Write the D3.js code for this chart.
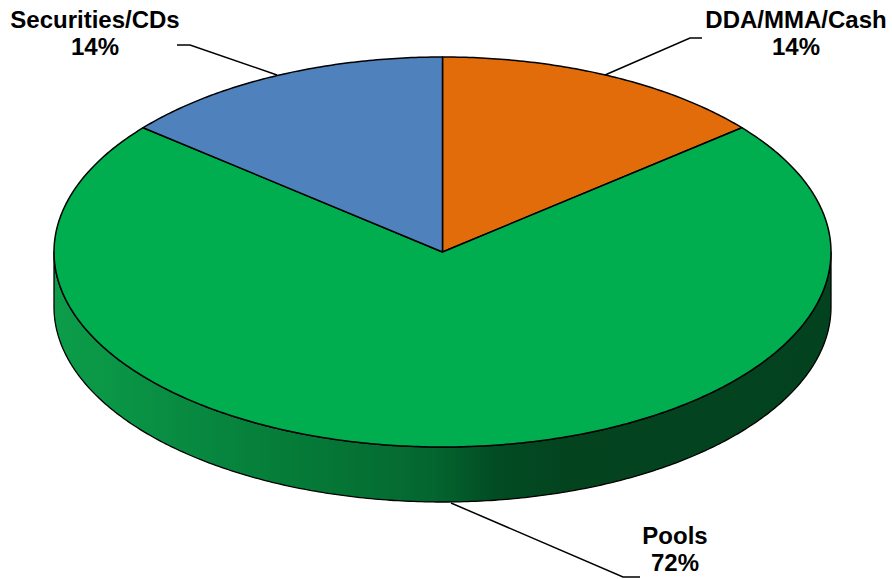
<!DOCTYPE html>
<html>
<head>
<meta charset="utf-8">
<script src="https://cdn.jsdelivr.net/npm/d3@7"></script>
<style>
  html, body { margin: 0; padding: 0; background: #ffffff; }
  svg { display: block; }
  text { font-family: "Liberation Sans", Arial, sans-serif; font-weight: bold; fill: #000; }
</style>
</head>
<body>
<svg id="chart" width="892" height="579"></svg>
<script>
// Portfolio allocation, clockwise from 12 o'clock
const categories = ["DDA/MMA/Cash", "Pools", "Securities/CDs"];
const shares = [14, 72, 14];
const sliceColors = ["#e36c0a", "#00ae4f", "#4f81bd"];

// Label placement (text anchor point, leader line from label to slice edge)
const labelPos = [
  { x: 796, y: 28, line: [[702, 38], [690, 38], [605, 75]] },
  { x: 675, y: 544, line: [[640, 577], [623, 577], [451, 503]] },
  { x: 95, y: 28, line: [[177, 45], [190, 45], [277, 75]] }
];

const svg = d3.select("#chart");
const cx = 442.5, cy = 252, rx = 388.5, ry = 195, depth = 55;

const pie = d3.pie().sort(null).value(d => d)
  .startAngle(0).endAngle(2 * Math.PI);
const arcs = pie(shares);

// Map a pie angle (0 = top, clockwise) onto the tilted ellipse
const px = a => cx + rx * Math.sin(a);
const py = (a, dy = 0) => cy - ry * Math.cos(a) + dy;

function arcPoints(a0, a1, dy = 0) {
  const n = Math.max(2, Math.ceil(Math.abs(a1 - a0) / 0.01));
  return d3.range(n + 1).map(i => {
    const a = a0 + (a1 - a0) * i / n;
    return [px(a), py(a, dy)];
  });
}

// Side-wall gradient: lit on the left, falling into shadow on the right
const defs = svg.append("defs");
const grad = defs.append("linearGradient")
  .attr("id", "sideGrad")
  .attr("gradientUnits", "userSpaceOnUse")
  .attr("x1", cx - rx).attr("y1", 0)
  .attr("x2", cx + rx).attr("y2", 0);
[
  [0.00, "#0c9c4a"],
  [0.07, "#0a9746"],
  [0.17, "#088a41"],
  [0.32, "#057a37"],
  [0.42, "#056f33"],
  [0.49, "#03652f"],
  [0.57, "#024b23"],
  [0.66, "#03441f"],
  [1.00, "#03421f"]
].forEach(([o, c]) => grad.append("stop").attr("offset", o).attr("stop-color", c));

const line = d3.line();

// Visible side wall: the front half of each slice (angles between 90° and 270°)
arcs.forEach((d, i) => {
  const a0 = Math.max(d.startAngle, Math.PI / 2);
  const a1 = Math.min(d.endAngle, 3 * Math.PI / 2);
  if (a1 <= a0) return;
  const top = arcPoints(a0, a1);
  const bottom = arcPoints(a1, a0, depth);
  svg.append("path")
    .attr("d", line(top.concat(bottom)) + "Z")
    .attr("fill", i === 1 ? "url(#sideGrad)" : d3.color(sliceColors[i]).darker(0.8))
    .attr("stroke", "#000")
    .attr("stroke-width", 1.3)
    .attr("stroke-linejoin", "round");
});

// Top faces
arcs.forEach((d, i) => {
  const pts = [[cx, cy]].concat(arcPoints(d.startAngle, d.endAngle));
  svg.append("path")
    .attr("d", line(pts) + "Z")
    .attr("fill", sliceColors[i])
    .attr("stroke", "#000")
    .attr("stroke-width", 1.5)
    .attr("stroke-linejoin", "round");
});

// Leader lines and labels
arcs.forEach((d, i) => {
  const L = labelPos[i];
  svg.append("path")
    .attr("d", line(L.line))
    .attr("fill", "none")
    .attr("stroke", "#000")
    .attr("stroke-width", 1.5);
  const t = svg.append("text")
    .attr("text-anchor", "middle")
    .attr("font-size", 24);
  t.append("tspan").attr("x", L.x).attr("y", L.y).text(categories[i]);
  t.append("tspan").attr("x", L.x).attr("y", L.y + 27).text(d.data + "%");
});
</script>
</body>
</html>
